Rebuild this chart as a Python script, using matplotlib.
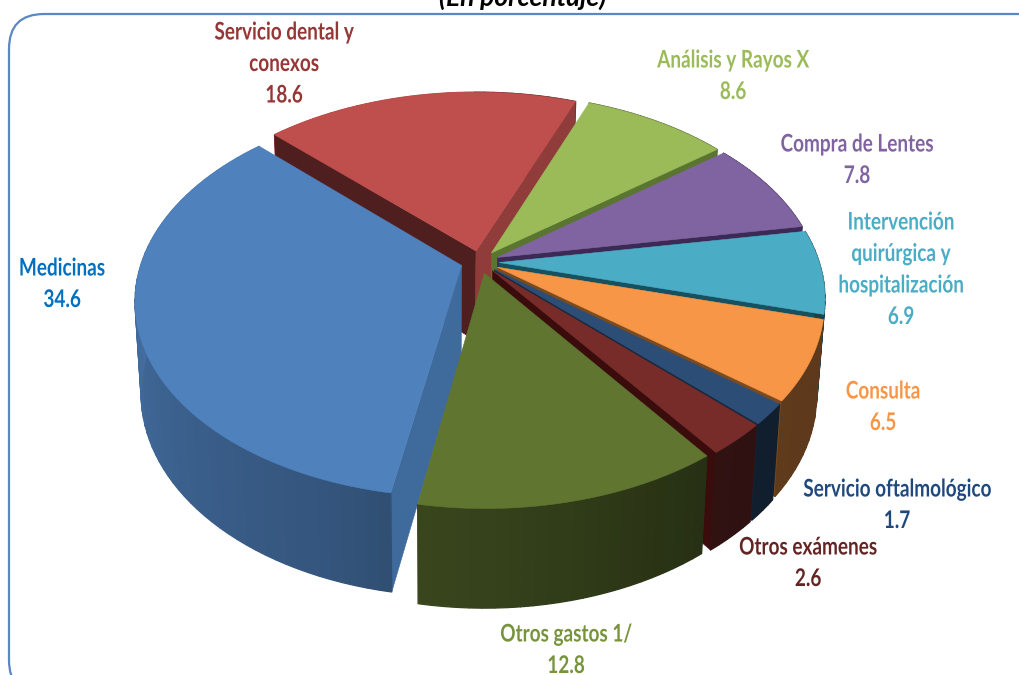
import numpy as np
import matplotlib
matplotlib.use("Agg")
import matplotlib.pyplot as plt
from matplotlib.colors import to_rgb
from matplotlib.collections import PolyCollection
from matplotlib.patches import FancyBboxPatch
from matplotlib.patheffects import AbstractPathEffect
from matplotlib.transforms import Affine2D

# ---- data ----
categories = ["Servicio dental y\nconexos", "Análisis y Rayos X", "Compra de Lentes",
              "Intervención\nquirúrgica y\nhospitalización", "Consulta",
              "Servicio oftalmológico", "Otros exámenes", "Otros gastos 1/", "Medicinas"]
values = [18.6, 8.6, 7.8, 6.9, 6.5, 1.7, 2.6, 12.8, 34.6]
value_labels = ["18.6", "8.6", "7.8", "6.9", "6.5", "1.7", "2.6", "12.8", "34.6"]
title = "(En porcentaje)"

# ---- styles ----
top_colors = ["#BE4F4C", "#9BBB59", "#8064A2", "#4BACC6", "#F79646",
              "#2C4D75", "#772C2A", "#5F7530", "#4F81BD"]
text_colors = ["#953735", "#9BBB59", "#8064A2", "#4BACC6", "#F79646",
               "#1F497D", "#632523", "#77933C", "#0070C0"]
start_cut = ["#4F1E1E", "#5A7530", "#3A2A55", "#17505F", "#6B4018",
             "#12263C", "#3A0C0C", "#2A3412", "#3F6A9C"]
end_cut = ["#8F3C3A", "#5A7530", "#3A2A55", "#17505F", "#7A4A20",
           "#14283E", "#3A0C0C", "#2A3412", "#3F6A9C"]
label_xy = [(284, 32), (733, 60), (857, 144), (901, 222), (883, 391),
            (897, 489), (808, 547), (566, 634), (62, 268)]
LINE = 31.5

CX, CY, RX, RY, K = 480, 262, 320, 190, 0.174
START, EXPLODE, H = -45.6, 0.06, 90.0
VPX, BOTTOM_SCALE = 440, 0.98


class Condense(AbstractPathEffect):
    """Narrow a text horizontally about its centre (the reference face is condensed)."""
    def __init__(self, cx, sx):
        super().__init__()
        self.t = Affine2D().translate(-cx, 0).scale(sx, 1).translate(cx, 0)

    def draw_path(self, renderer, gc, tpath, affine, rgbFace=None):
        renderer.draw_path(gc, tpath, affine + self.t, rgbFace)


def project(X, Y, z):
    """Unit-disc coordinates to pixels; z=1 is the underside of the pie."""
    w = 1 + K * Y
    x = CX + RX * X / w
    y = CY - RY * Y / w
    y = y + z * H / np.sqrt(w)
    x = VPX + (x - VPX) * (1 - z * (1 - BOTTOM_SCALE))
    return x, y


def shade(t):
    t = np.mod(t, 360)
    return np.interp(t, [0, 120, 143, 165, 189, 200, 270, 315, 360],
                     [.38, .38, .40, .50, .60, .66, .85, .95, .95])


fig = plt.figure(figsize=(10.2, 6.75), dpi=100)
ax = fig.add_axes([0, 0, 1, 1])
ax.set_xlim(0, 1020)
ax.set_ylim(675, 0)
ax.axis("off")

ax.add_patch(FancyBboxPatch((9, 14), 1060, 681, boxstyle="round,pad=0,rounding_size=35",
                            fc="white", ec="#5B87C5", lw=1.6, zorder=0))

fracs = np.array(values) / sum(values) * 360
starts = START + np.concatenate([[0], np.cumsum(fracs)[:-1]])
ends = starts + fracs
mids = np.radians((starts + ends) / 2)
order = np.argsort(-np.cos(mids))

z = 2


def wall(i, dx, dy, t0, t1):
    """Banded outer wall of wedge i between clockwise angles t0 and t1."""
    global z
    if t1 <= t0:
        return
    base = np.array(to_rgb(top_colors[i]))
    n = max(1, int(np.ceil((t1 - t0) / 2.0)))
    edges = np.linspace(t0, t1, n + 1)
    quads, cols = [], []
    for a, b in zip(edges[:-1], edges[1:]):
        r = np.radians(np.linspace(a, b, 4))
        X, Y = np.sin(r) + dx, np.cos(r) + dy
        xa, ya = project(X, Y, 0.0)
        xb, yb = project(X, Y, 1.0)
        quads.append(np.c_[np.r_[xa, xb[::-1]], np.r_[ya, yb[::-1]]])
        cols.append(base * shade((a + b) / 2))
    ax.add_collection(PolyCollection(quads, facecolors=cols, edgecolors=cols,
                                     linewidths=.9, zorder=z))
    z += 1


for i in order:
    dx, dy = EXPLODE * np.sin(mids[i]), EXPLODE * np.cos(mids[i])
    s, e = starts[i], ends[i]

    # parts of the wall facing away from the viewer go first
    s360 = np.mod(s, 360)
    e360 = s360 + (e - s)
    front0, front1 = max(s360, 90), min(e360, 270)
    wall(i, dx, dy, s360, min(e360, front0))
    wall(i, dx, dy, max(s360, front1), e360)

    # radial cut faces that look toward the viewer
    for ang, normal, col in ((s, s - 90, start_cut[i]), (e, e + 90, end_cut[i])):
        if np.cos(np.radians(normal)) >= 0:
            continue
        rad = np.radians(ang)
        ex, ey = np.sin(rad) + dx, np.cos(rad) + dy
        px, py = project(np.array([dx, ex, ex, dx]), np.array([dy, ey, ey, dy]),
                         np.array([0, 0, 1, 1.0]))
        ax.fill(px, py, fc=col, ec=col, lw=.4, zorder=z)
        z += 1

    # the wall facing the viewer
    wall(i, dx, dy, front0, front1)

    # top face
    t = np.linspace(s, e, max(int(fracs[i] * 2), 12))
    rad = np.radians(t)
    x0, y0 = project(np.sin(rad) + dx, np.cos(rad) + dy, 0.0)
    ax_, ay_ = project(np.array([dx]), np.array([dy]), 0.0)
    ax.fill(np.r_[ax_, x0], np.r_[ay_, y0], fc=top_colors[i], ec=top_colors[i],
            lw=.4, zorder=z)
    z += 1

for cat, val, (lx, ly), col in zip(categories, value_labels, label_xy, text_colors):
    for n, line in enumerate(cat.split("\n") + [val]):
        tx = ax.text(lx, ly + n * LINE, line, color=col, ha="center", va="center",
                     family="Lato", fontweight="bold", fontsize=17.5, zorder=500)
        tx.set_path_effects([Condense(lx, 0.78)])

ax.text(523, 6, title, ha="center", va="baseline", family="Lato", fontweight="bold",
        fontstyle="italic", fontsize=19, color="black", zorder=500)

fig.savefig("out.png", dpi=100, facecolor="white")
